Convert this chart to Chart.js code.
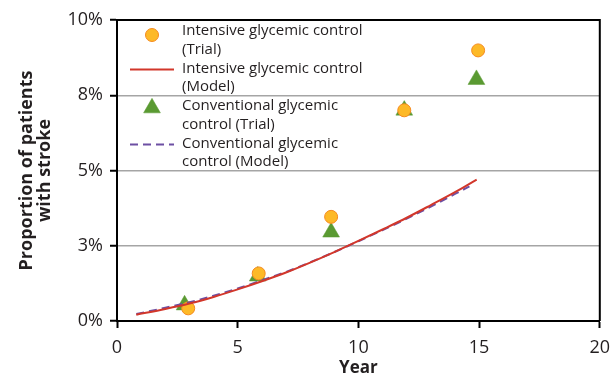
<!DOCTYPE html>
<html>
<head>
<meta charset="utf-8">
<script src="https://cdn.jsdelivr.net/npm/chart.js@4.4.1/dist/chart.umd.min.js"></script>
<style>
  html, body { margin: 0; padding: 0; background: #fff; }
  #wrap { width: 610px; height: 377px; position: relative; }
</style>
</head>
<body>
<div id="wrap"><canvas id="c" width="610" height="377"></canvas></div>
<script>
// ---- Data ----
const intensiveTrialYears = [2.95, 5.87, 8.87, 11.9, 14.96];
const intensiveTrial = [0.42, 1.58, 3.46, 7.00, 8.99];
const conventionalTrialYears = [2.8, 5.83, 8.87, 11.9, 14.89];
const conventionalTrial = [0.53, 1.49, 2.95, 7.00, 8.02];

const intensiveModelYears = [0.8, 2, 3, 4, 5, 6, 7, 8, 9, 10, 11, 12, 13, 14, 14.9];
const intensiveModel = [0.21, 0.40, 0.58, 0.80, 1.05, 1.32, 1.61, 1.94, 2.29, 2.66, 3.04, 3.43, 3.85, 4.28, 4.70];
const conventionalModelYears = [0.8, 2, 3, 4, 5, 6, 7, 8, 9, 10, 11, 12, 13, 14, 14.6];
const conventionalModel = [0.23, 0.44, 0.62, 0.84, 1.08, 1.35, 1.63, 1.95, 2.29, 2.65, 3.02, 3.40, 3.80, 4.22, 4.47];

const yTickLabels = ['0%', '3%', '5%', '8%', '10%'];
const xTickLabels = ['0', '5', '10', '15', '20'];
const seriesNames = [
  ['Intensive glycemic control', '(Trial)'],
  ['Intensive glycemic control', '(Model)'],
  ['Conventional glycemic', 'control (Trial)'],
  ['Conventional glycemic', 'control (Model)']
];

const pts = (xs, ys) => xs.map((x, i) => ({ x: x, y: ys[i] }));
const FONT = "'Open Sans', 'DejaVu Sans', sans-serif";

// legend drawn inside the plot area
const legendPlugin = {
  id: 'innerLegend',
  afterDatasetsDraw(chart) {
    const ctx = chart.ctx;
    const a = chart.chartArea;
    const mx = a.left + 35, tx = a.left + 65;
    const lineH = 18.7, itemH = 37.5;
    const y0 = a.top + 11;
    chart.data.datasets.forEach((ds, i) => {
      const y = y0 + i * itemH;
      ctx.save();
      ctx.font = "15px " + FONT;
      ctx.fillStyle = '#231f20';
      ctx.textBaseline = 'middle';
      ctx.textAlign = 'left';
      seriesNames[i].forEach((t, j) => ctx.fillText(t, tx, y + j * lineH));
      if (ds.showLine) {
        ctx.strokeStyle = ds.borderColor;
        ctx.lineWidth = ds.borderWidth;
        ctx.setLineDash(ds.borderDash || []);
        ctx.beginPath();
        ctx.moveTo(mx - 22, y + 1);
        ctx.lineTo(mx + 22, y + 1);
        ctx.stroke();
      } else {
        ctx.fillStyle = ds.backgroundColor;
        ctx.strokeStyle = ds.borderColor;
        ctx.lineWidth = ds.borderWidth;
        Chart.helpers.drawPoint(ctx, {
          pointStyle: ds.pointStyle, radius: ds.pointRadius, borderWidth: ds.borderWidth, rotation: 0
        }, mx, y + (ds.pointStyle === 'circle' ? 4 : 2));
      }
      ctx.restore();
    });
  }
};

// full black frame around the plot area
const framePlugin = {
  id: 'frame',
  afterDraw(chart) {
    const ctx = chart.ctx, a = chart.chartArea;
    ctx.save();
    ctx.strokeStyle = '#000';
    ctx.lineWidth = 2;
    ctx.beginPath();
    ctx.moveTo(a.left, a.top);
    ctx.lineTo(a.right, a.top);
    ctx.lineTo(a.right, a.bottom);
    ctx.stroke();
    ctx.restore();
  }
};

new Chart(document.getElementById('c'), {
  data: {
    datasets: [
      {
        type: 'line', label: seriesNames[0].join(' '), data: pts(intensiveTrialYears, intensiveTrial),
        showLine: false, pointStyle: 'circle', pointRadius: 6.5, pointHoverRadius: 6.5,
        backgroundColor: '#FDB927', borderColor: '#F58A1F', borderWidth: 1, order: 2
      },
      {
        type: 'line', label: seriesNames[1].join(' '), data: pts(intensiveModelYears, intensiveModel),
        showLine: true, pointRadius: 0, borderColor: '#D2372B', backgroundColor: '#D2372B',
        borderWidth: 2, cubicInterpolationMode: 'monotone', fill: false, order: 0
      },
      {
        type: 'line', label: seriesNames[2].join(' '), data: pts(conventionalTrialYears, conventionalTrial),
        showLine: false, pointStyle: 'triangle', pointRadius: 9.7, pointHoverRadius: 9.7,
        backgroundColor: '#5A9A32', borderColor: '#5A9A32', borderWidth: 0.5, order: 3
      },
      {
        type: 'line', label: seriesNames[3].join(' '), data: pts(conventionalModelYears, conventionalModel),
        showLine: true, pointRadius: 0, borderColor: '#6D4FA3', backgroundColor: '#6D4FA3',
        borderWidth: 2, borderDash: [8, 5], cubicInterpolationMode: 'monotone', fill: false, order: 1
      }
    ]
  },
  options: {
    responsive: false,
    animation: false,
    devicePixelRatio: 1,
    layout: { padding: { top: 20, right: 0, left: 18, bottom: 0 } },
    plugins: { legend: { display: false }, tooltip: { enabled: false } },
    scales: {
      x: {
        type: 'linear', min: 0, max: 20,
        afterFit: (s) => { s.paddingRight = 9; s.height = 56; },
        ticks: {
          stepSize: 5, color: '#231f20', padding: 9,
          font: { family: FONT, size: 18 },
          callback: (v, i) => xTickLabels[i]
        },
        grid: { drawOnChartArea: false, drawTicks: true, tickLength: 7, tickColor: '#000', tickWidth: 2 },
        border: { color: '#000', width: 2 },
        title: {
          display: true, text: 'Year', color: '#231f20', padding: { top: 0, bottom: 0 },
          font: { family: FONT, size: 17, weight: 'bold', lineHeight: 1.0 }
        }
      },
      y: {
        min: 0, max: 10,
        afterFit: (s) => { s.width = 99; },
        ticks: {
          stepSize: 2.5, color: '#231f20', padding: 7,
          font: { family: FONT, size: 18 },
          callback: (v, i) => yTickLabels[i]
        },
        grid: { color: '#A5A5A5', lineWidth: 1.5, tickLength: 7, tickColor: '#000', tickWidth: 2 },
        border: { color: '#000', width: 2 },
        title: {
          display: true, text: ['Proportion of patients', 'with stroke'], color: '#231f20',
          padding: { top: 0, bottom: 6 },
          font: { family: FONT, size: 18, weight: 'bold', lineHeight: 1.0 }
        }
      }
    }
  },
  plugins: [legendPlugin, framePlugin]
});
</script>
</body>
</html>
